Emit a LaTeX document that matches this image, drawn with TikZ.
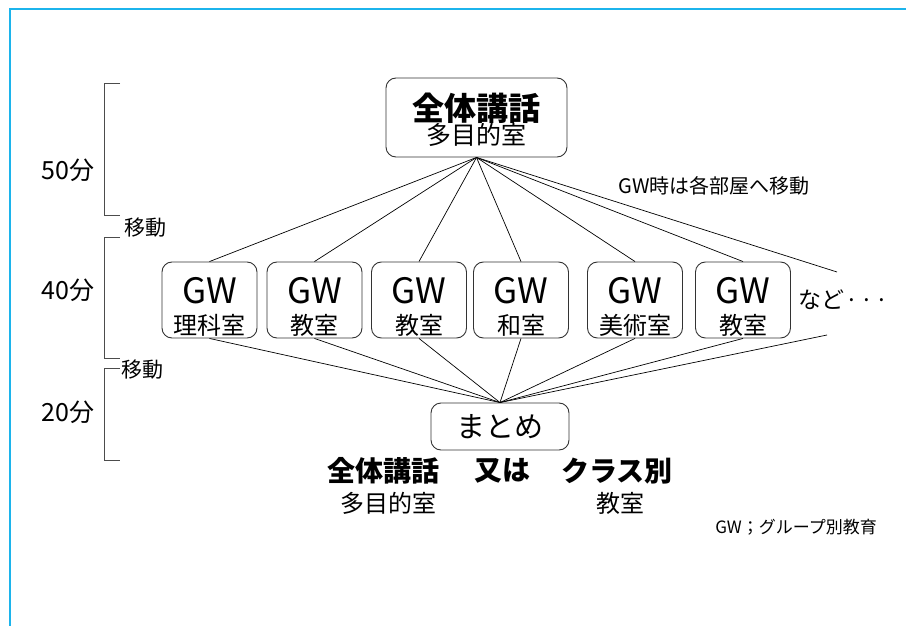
\documentclass[tikz,border=0pt]{standalone}
\usepackage{fontspec}
\setmainfont{Noto Sans CJK JP}
\definecolor{frameblue}{HTML}{1CB4EC}
\definecolor{boxline}{HTML}{333333}
\newcommand{\fs}[1]{\fontsize{#1}{#1}\selectfont}
\begin{document}
\begin{tikzpicture}[x=1pt,y=-1pt,
  rbox/.style={draw=boxline, line width=0.9pt, rounded corners=10pt, inner sep=0pt, align=center},
  gwbox/.style={rbox, minimum width=95pt, minimum height=76pt},
  conn/.style={draw=black, line width=0.7pt},
  brk/.style={draw=black!70, line width=1pt},
  lbl/.style={inner sep=0pt, anchor=center}]
\useasboundingbox (0,0) rectangle (906,626);
% frame
\draw[frameblue, line width=2.5pt] (10,626) -- (10,9) -- (906,9);

% top box
\node[rbox, minimum width=181pt, minimum height=79pt] (top) at (476.5,117.5) {};
\node[lbl] (topA) at ([yshift=9.5pt]top.center) {\fs{32}\bfseries 全体講話};
\node[lbl] (topB) at ([yshift=-17.5pt]top.center) {\fs{25}多目的室};

% GW boxes
\foreach \n/\x/\r in {g1/209.5/理科室, g2/314.5/教室, g3/419/教室, g4/521/和室, g5/635/美術室, g6/743/教室} {
  \node[gwbox] (\n) at (\x,300) {};
  \node[lbl] (\n a) at ([yshift=9pt]\n.center) {\fs{35}GW};
  \node[lbl] (\n b) at ([yshift=-25pt]\n.center) {\fs{24}\r};
}
\node[lbl, anchor=west] (etc) at (798,300) {\fs{23}など\kern1pt·\kern2pt·\kern2pt·};
\coordinate (etcT) at (837,272);
\coordinate (etcB) at (827,335);

% summary box
\node[rbox, minimum width=138pt, minimum height=47pt] (sum) at (500,426.5) {\fs{29}まとめ};

% connectors
\foreach \g in {g1,g2,g3,g4,g5,g6} {
  \draw[conn] (top.south) -- (\g.north);
  \draw[conn] (\g.south) -- (sum.north);
}
\draw[conn] (top.south) -- (etcT);
\draw[conn] (etcB) -- (sum.north);

\node[lbl] (note) at (714,186) {\fs{20}GW時は各部屋へ移動};

% bottom texts
\node[lbl] (b1) at (383,471) {\fs{28}\bfseries 全体講話};
\node[lbl] (b2) at (502,471) {\fs{28}\bfseries 又は};
\node[lbl] (b3) at (617,471) {\fs{28}\bfseries クラス別};
\node[lbl] (b4) at (388,503) {\fs{24}多目的室};
\node[lbl] (b5) at (620,503) {\fs{24}教室};
\node[lbl, anchor=east] (legend) at (877,527) {\fs{17}GW；グループ別教育};

% brackets
\draw[brk] (120,84) -- (104,84) -- (104,215) -- (120,215);
\draw[brk] (120,237) -- (104,237) -- (104,358) -- (120,358);
\draw[brk] (120,368) -- (104,368) -- (104,460) -- (120,460);
\node[lbl] (t1) at (68,170) {\fs{25}50分};
\node[lbl] (t2) at (68,290) {\fs{25}40分};
\node[lbl] (t3) at (68,412) {\fs{25}20分};
\node[lbl] (m1) at (145,228) {\fs{21}移動};
\node[lbl] (m2) at (142,370) {\fs{21}移動};
\end{tikzpicture}
\end{document}
